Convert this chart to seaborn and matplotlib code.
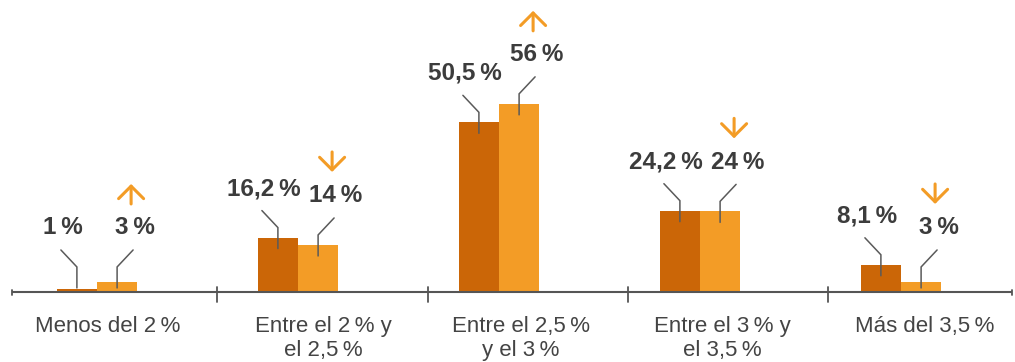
import matplotlib
matplotlib.use("Agg")
import matplotlib.pyplot as plt
import seaborn as sns
import pandas as pd

# ---- data ----
categories = ["Menos del 2\u2009%", "Entre el 2\u2009% y\nel 2,5\u2009%", "Entre el 2,5\u2009%\ny el 3\u2009%",
              "Entre el 3\u2009% y\nel 3,5\u2009%", "Más del 3,5\u2009%"]
series_names = ["Anterior", "Actual"]
values_prev = [1.0, 16.2, 50.5, 24.2, 8.1]
values_curr = [3.0, 14.0, 56.0, 24.0, 3.0]
labels_prev = ["1\u2009%", "16,2\u2009%", "50,5\u2009%", "24,2\u2009%", "8,1\u2009%"]
labels_curr = ["3\u2009%", "14\u2009%", "56\u2009%", "24\u2009%", "3\u2009%"]
trend = ["up", "down", "up", "down", "down"]

DARK = "#CB6607"
LIGHT = "#F39C26"
TXT = "#3C3C3C"
AXC = "#555555"

sns.set_theme(style="white")
plt.rcParams["font.family"] = ["Liberation Sans", "DejaVu Sans"]

df = pd.DataFrame({
    "cat": categories * 2,
    "serie": [series_names[0]] * 5 + [series_names[1]] * 5,
    "val": values_prev + values_curr,
})

W, H = 1015, 362
fig = plt.figure(figsize=(W / 100, H / 100), dpi=100)
PX_PER_UNIT_Y = 3.36
PX_PER_UNIT_X = 201.0
X0_PX = 97.0
YMAX = 80
base_px = 292
ax = fig.add_axes([0, (H - base_px) / H, 1, YMAX * PX_PER_UNIT_Y / H])

sns.barplot(data=df, x="cat", y="val", hue="serie", order=categories,
            hue_order=series_names, palette=[DARK, LIGHT], width=0.4,
            saturation=1, legend=False, ax=ax, errorbar=None, linewidth=0)

ax.set_xlim(-X0_PX / PX_PER_UNIT_X, (W - X0_PX) / PX_PER_UNIT_X)
ax.set_ylim(0, YMAX)
for s in ax.spines.values():
    s.set_visible(False)
ax.set_xticks([])
ax.set_yticks([])
ax.set_xlabel("")
ax.set_ylabel("")

px_x = 1 / PX_PER_UNIT_X
px_y = 1 / PX_PER_UNIT_Y

# baseline and ticks
x_left, x_right = (12 - X0_PX) * px_x, (1012 - X0_PX) * px_x
ax.plot([x_left, x_right], [0, 0], color=AXC, lw=1.5, clip_on=False, solid_capstyle="butt")
tick_px = [217, 428, 628, 828]
for tp in tick_px:
    tx = (tp - X0_PX) * px_x
    ax.plot([tx, tx], [5 * px_y, -10 * px_y], color=AXC, lw=1.3, clip_on=False)
for tp in [12, 1012]:
    tx = (tp - X0_PX) * px_x
    ax.plot([tx, tx], [2 * px_y, -3 * px_y], color=AXC, lw=1.3, clip_on=False)

# category labels
label_px = [108, 323, 521, 722, 925]
for lp, c in zip(label_px, categories):
    ax.text((lp - X0_PX) * px_x, -24 * px_y, c, ha="center", va="top",
            fontsize=16, color="#444444", linespacing=1.2, clip_on=False)

# value annotations with leader lines
def leader(xc, v, label, direction):
    y0 = max(v - 11 * px_y, 1.2)
    y1 = y0 + 21 * px_y
    x2 = xc + direction * 16 * px_x
    y2 = y1 + 17 * px_y
    ax.plot([xc, xc, x2], [y0, y1, y2], color="#5a5a5a", lw=1.1, clip_on=False,
            solid_joinstyle="miter")
    ly = y2 + 22 * px_y
    ax.text(x2 + 2 * px_x, ly, label, ha="center", va="center", fontsize=17.5,
            fontweight="bold", color=TXT, clip_on=False)
    return x2 + 2 * px_x, ly

for i in range(5):
    xd = i - 0.1
    xl = i + 0.1
    leader(xd, values_prev[i], labels_prev[i], -1)
    lx, ly = leader(xl, values_curr[i], labels_curr[i], +1)
    ax_x = lx - 4 * px_x
    ay = ly + 34 * px_y
    top, bot = ay + 10 * px_y, ay - 10 * px_y
    if trend[i] == "up":
        start, end = bot, top
    else:
        start, end = top, bot
    ax.annotate("", xy=(ax_x, end), xytext=(ax_x, start),
                arrowprops=dict(arrowstyle="->,head_length=0.75,head_width=0.75",
                                color=LIGHT, lw=2.2, shrinkA=0, shrinkB=0),
                annotation_clip=False)

fig.savefig("out.png", dpi=100)
